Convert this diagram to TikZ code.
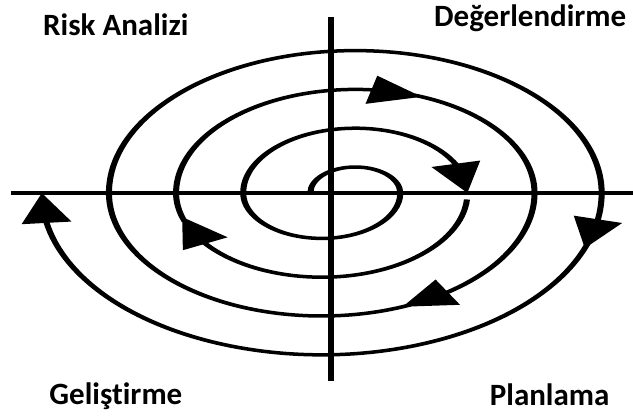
\documentclass[tikz,border=0pt]{standalone}
\usepackage{fontspec}
\setmainfont{Carlito}[Ligatures=NoCommon]
\usetikzlibrary{arrows.meta,bending}

\begin{document}
\begin{tikzpicture}[x=1pt,y=1pt,
        spiral/.style={line width=3.5pt},
        midtip/.style={-{Triangle[width=28pt,length=30pt,flex]}},
        endtip/.style={-{Triangle[width=28pt,length=30pt]}},
        phase/.style={inner sep=0pt,anchor=base west,font=\bfseries\fontsize{31}{31}\selectfont}]
    \useasboundingbox (-331,-223) rectangle (302,193);
    % axes
    \draw [line width=3.6pt] (-320,0) -- (302,0);
    \draw [line width=5.2pt] (0,176) -- (0,-188);
    % spiral, drawn with circles and stretched sideways
    \begin{scope}[transform canvas={xscale=1.73}]
        \coordinate (cu) at (14.05,0);
        \coordinate (cl) at (-5.35,0);
        \draw [spiral,midtip] (-11.95,0) arc[start angle=180,end angle=0,radius=26pt]
            arc[start angle=0,end angle=-180,radius=45.4pt]
            arc[start angle=180,end angle=0,radius=64.8pt];
        \draw [spiral,midtip] (cl) ++(-4.4:84.2) arc[start angle=-4.4,end angle=-163.5,radius=84.2pt];
        \draw [spiral,midtip] (cl) ++(-160:84.2) arc[start angle=-160,end angle=-180,radius=84.2pt]
            arc[start angle=180,end angle=68.2,radius=103.6pt];
        \draw [spiral,midtip] (cu) ++(71:103.6) arc[start angle=71,end angle=0,radius=103.6pt]
            arc[start angle=0,end angle=-67.7,radius=123pt];
        \draw [spiral,midtip] (cl) ++(-65.4:123) arc[start angle=-65.4,end angle=-180,radius=123pt]
            arc[start angle=180,end angle=0,radius=142.4pt]
            arc[start angle=0,end angle=-20,radius=161.8pt];
        \draw [spiral,endtip] (cl) ++(-18.2:161.8) arc[start angle=-18.2,end angle=-180,radius=161.8pt];
    \end{scope}
    % phase names
    \node [phase] (risk) at (-288,157.3) {Risk Analizi};
    \node [phase] (deger) at (103,166.3) {Değerlendirme};
    \node [phase] (gelis) at (-281.7,-211.7) {Geliştirme};
    \node [phase] (plan) at (158.7,-212.3) {Planlama};
\end{tikzpicture}
\end{document}
